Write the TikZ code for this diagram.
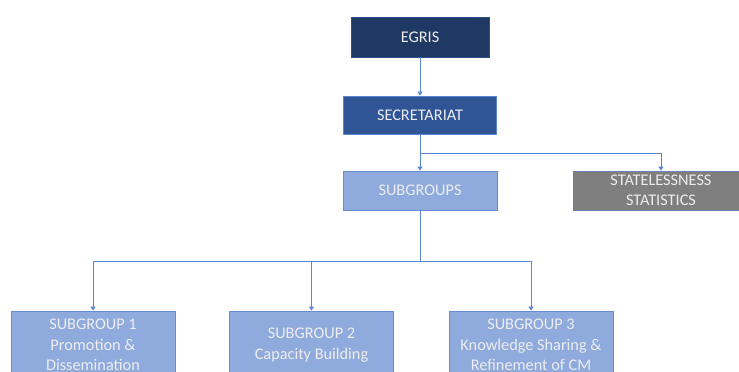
\documentclass[tikz,border=0pt]{standalone}
\usepackage{fontspec}
\setmainfont{Carlito}
\usetikzlibrary{positioning, arrows.meta}

\definecolor{navy}{HTML}{203864}
\definecolor{midblue}{HTML}{2F5597}
\definecolor{lightblue}{HTML}{8FAADC}
\definecolor{linkblue}{HTML}{5A86D0}
\definecolor{greybox}{HTML}{7F7F7F}

\begin{document}
\begin{tikzpicture}[x=1pt, y=-1pt, >={Triangle[width=5pt,length=4pt]},
    box/.style={draw, line width=0.8pt, align=center, inner sep=0pt,
        text=white!93!black, font=\fontsize{16.3}{20.5}\selectfont},
    link/.style={draw=linkblue, line width=0.8pt}]

\clip (0,0) rectangle (739,372);
\useasboundingbox (0,0) rectangle (739,372);

% Define the boxes
\node[box, fill=navy, draw=midblue!80!navy, minimum width=138pt, minimum height=40pt] (egris) at (420,37) {EGRIS};
\node[box, fill=midblue, draw=linkblue, minimum width=153pt, minimum height=38pt] (secr) at (420,115) {SECRETARIAT};
\node[box, fill=lightblue, draw=linkblue!80!lightblue, minimum width=154pt, minimum height=39pt] (subg) at (420,190.5) {SUBGROUPS};
\node[box, fill=greybox, draw=linkblue!60!greybox, minimum width=176pt, minimum height=39pt] (stat) at (661,190.5) {STATELESSNESS\\STATISTICS};

\node[box, fill=lightblue, draw=linkblue!80!lightblue, minimum width=164pt, minimum height=68pt] (sg1) at (93,345) {SUBGROUP 1\\Promotion \&\\Dissemination};
\node[box, fill=lightblue, draw=linkblue!80!lightblue, minimum width=164pt, minimum height=68pt] (sg2) at (311.5,345) {SUBGROUP 2\\Capacity Building};
\node[box, fill=lightblue, draw=linkblue!80!lightblue, minimum width=164pt, minimum height=68pt] (sg3) at (531,345) {SUBGROUP 3\\Knowledge Sharing \&\\Refinement of CM};

% Branch points
\coordinate (split1) at (420,153);
\coordinate (split2) at (420,261);

% Connectors
\draw[link, ->] (egris) -- (secr);
\draw[link, ->] (secr) -- (subg);
\draw[link, ->] (split1) -| (stat.north);
\draw[link] (subg) -- (split2);
\draw[link, ->] (split2) -| (sg1.north);
\draw[link, ->] (split2) -| (sg2.north);
\draw[link, ->] (split2) -| (sg3.north);

\end{tikzpicture}
\end{document}
